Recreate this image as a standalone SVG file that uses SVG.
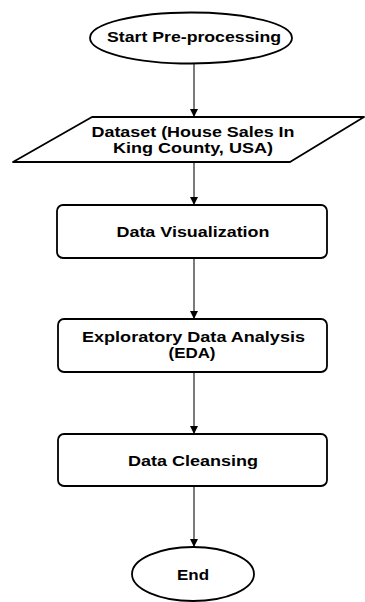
<svg xmlns="http://www.w3.org/2000/svg" width="365" height="602" viewBox="0 0 365 602">
<style>
.n{fill:#fff;stroke:#000;stroke-width:1.8;stroke-linejoin:round}
.t{font-family:"Liberation Sans",Arial,sans-serif;font-weight:bold;font-size:15.5px;fill:#000;text-anchor:middle}
.c{stroke:#333;stroke-width:1.3;fill:none}
</style>
<defs>
<marker id="ah" viewBox="0 0 10 10" refX="10" refY="5" markerWidth="8" markerHeight="8" markerUnits="userSpaceOnUse" orient="auto">
<path d="M0,0 L10,5 L0,10 Z" fill="#000"/>
</marker>
</defs>
<g id="connectors">
<line class="c" x1="194" y1="63" x2="194" y2="117" marker-end="url(#ah)"/>
<line class="c" x1="194" y1="162" x2="194" y2="205" marker-end="url(#ah)"/>
<line class="c" x1="194" y1="258" x2="194" y2="319" marker-end="url(#ah)"/>
<line class="c" x1="194" y1="372" x2="194" y2="434" marker-end="url(#ah)"/>
<line class="c" x1="194" y1="486" x2="194" y2="547" marker-end="url(#ah)"/>
</g>
<g id="start">
<ellipse class="n" cx="191" cy="38" rx="101" ry="25.5"/>
<text class="t" x="194" y="42" textLength="174" lengthAdjust="spacingAndGlyphs">Start Pre-processing</text>
</g>
<g id="dataset">
<polygon class="n" points="92,117 364,117 290,162 13,162"/>
<text class="t" x="193" y="137" textLength="203" lengthAdjust="spacingAndGlyphs">Dataset (House Sales In</text>
<text class="t" x="193" y="153" textLength="160" lengthAdjust="spacingAndGlyphs">King County, USA)</text>
</g>
<g id="visualization">
<rect class="n" x="57" y="205" width="270" height="53" rx="6"/>
<text class="t" x="193" y="237" textLength="153" lengthAdjust="spacingAndGlyphs">Data Visualization</text>
</g>
<g id="eda">
<rect class="n" x="58" y="319" width="269" height="53" rx="6"/>
<text class="t" x="193.5" y="342" textLength="223" lengthAdjust="spacingAndGlyphs">Exploratory Data Analysis</text>
<text class="t" x="192" y="358" textLength="47" lengthAdjust="spacingAndGlyphs">(EDA)</text>
</g>
<g id="cleansing">
<rect class="n" x="58" y="434" width="269" height="52" rx="6"/>
<text class="t" x="193" y="466" textLength="130" lengthAdjust="spacingAndGlyphs">Data Cleansing</text>
</g>
<g id="end">
<ellipse class="n" cx="193" cy="574" rx="61" ry="27"/>
<text class="t" x="193" y="580" textLength="32" lengthAdjust="spacingAndGlyphs">End</text>
</g>
</svg>
